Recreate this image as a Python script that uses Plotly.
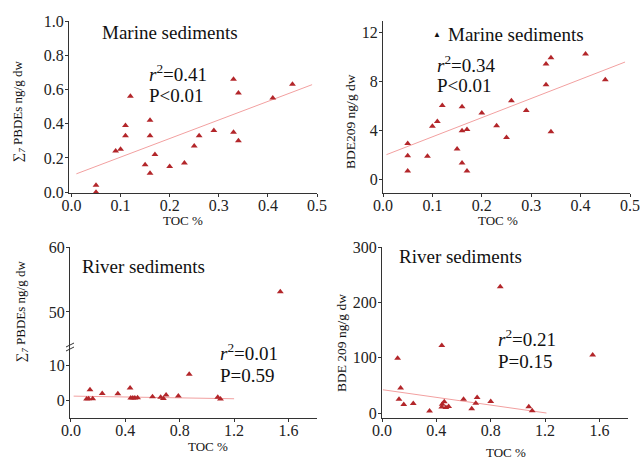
import plotly.graph_objects as go

# ---------------- data ----------------
# Marine sediments: sum of 7 PBDEs vs TOC
marine_toc_pbde = [0.05, 0.05, 0.09, 0.10, 0.11, 0.11, 0.12, 0.15, 0.16, 0.16, 0.16, 0.17,
                   0.20, 0.23, 0.25, 0.26, 0.29, 0.33, 0.33, 0.34, 0.34, 0.41, 0.45]
marine_pbde = [0.04, 0.00, 0.24, 0.25, 0.39, 0.33, 0.56, 0.16, 0.42, 0.33, 0.11, 0.22,
               0.15, 0.17, 0.27, 0.33, 0.36, 0.66, 0.35, 0.58, 0.30, 0.55, 0.63]
marine_pbde_fit_x = [0.01, 0.49]
marine_pbde_fit_y = [0.107, 0.628]

# Marine sediments: BDE209 vs TOC
marine_toc_209 = [0.05, 0.05, 0.05, 0.09, 0.10, 0.11, 0.12, 0.15, 0.16, 0.16, 0.16, 0.17,
                  0.17, 0.20, 0.23, 0.25, 0.26, 0.29, 0.33, 0.33, 0.34, 0.34, 0.41, 0.45]
marine_209 = [2.9, 1.9, 0.65, 1.85, 4.3, 4.7, 6.0, 2.45, 5.9, 3.95, 1.3, 4.05,
              0.65, 5.4, 4.35, 3.4, 6.4, 5.6, 9.4, 7.7, 9.9, 3.85, 10.2, 8.1]
marine_209_fit_x = [0.007, 0.49]
marine_209_fit_y = [1.99, 9.55]

# River sediments: sum of 7 PBDEs vs TOC
river_toc_pbde = [0.115, 0.13, 0.14, 0.16, 0.23, 0.345, 0.435, 0.44, 0.455, 0.47, 0.49,
                  0.60, 0.66, 0.68, 0.70, 0.79, 0.87, 1.08, 1.10, 1.54]
river_pbde = [0.5, 0.6, 3.2, 0.6, 2.1, 2.0, 3.7, 0.8, 0.8, 0.8, 0.9,
              1.2, 1.0, 0.7, 1.7, 1.4, 7.6, 1.0, 0.5, 53.1]
river_pbde_fit_x = [0.02, 1.2]
river_pbde_fit_y = [1.35, 0.6]

# River sediments: BDE 209 vs TOC
river_toc_209 = [0.115, 0.125, 0.137, 0.16, 0.23, 0.35, 0.44, 0.443, 0.44, 0.458, 0.47,
                 0.49, 0.60, 0.66, 0.69, 0.70, 0.80, 0.87, 1.08, 1.105, 1.55]
river_209 = [99, 25, 45, 15.5, 17, 3.5, 122, 15.7, 11, 20.5, 10,
             12, 25, 7.8, 17.5, 28, 21, 228, 11.5, 4.2, 105]
river_209_fit_x = [0.007, 1.21]
river_209_fit_y = [42, 0]

# ---------------- styling ----------------
W, H = 640, 459
FONT = "Liberation Serif"
MARK = "#b3262a"
FITC = "#f2a0a0"
AXC = "#333333"


def px(x):
    return x / W


def py(y):
    return 1 - y / H


fig = go.Figure()


def scat(x, y, xa, ya):
    fig.add_trace(go.Scatter(x=x, y=y, mode="markers", xaxis=xa, yaxis=ya,
                             marker=dict(symbol="triangle-up", size=6, color=MARK),
                             showlegend=False, hoverinfo="skip"))


def fit(x, y, xa, ya):
    fig.add_trace(go.Scatter(x=x, y=y, mode="lines", xaxis=xa, yaxis=ya,
                             line=dict(color=FITC, width=1),
                             showlegend=False, hoverinfo="skip"))


fit(marine_pbde_fit_x, marine_pbde_fit_y, "x", "y")
scat(marine_toc_pbde, marine_pbde, "x", "y")
fit(marine_209_fit_x, marine_209_fit_y, "x2", "y2")
scat(marine_toc_209, marine_209, "x2", "y2")

# broken axis: split river PBDE points into lower / upper part
lo_x = [a for a, b in zip(river_toc_pbde, river_pbde) if b < 30]
lo_y = [b for b in river_pbde if b < 30]
hi_x = [a for a, b in zip(river_toc_pbde, river_pbde) if b >= 30]
hi_y = [b for b in river_pbde if b >= 30]
fit(river_pbde_fit_x, river_pbde_fit_y, "x3", "y3")
scat(lo_x, lo_y, "x3", "y3")
scat(hi_x, hi_y, "x3", "y4")
fit(river_209_fit_x, river_209_fit_y, "x4", "y5")
scat(river_toc_209, river_209, "x4", "y5")

tickfont = dict(family=FONT, size=16, color="#222")
base = dict(showline=True, linecolor=AXC, linewidth=1, ticks="outside", ticklen=3,
            tickcolor=AXC, showgrid=False, zeroline=False, tickfont=tickfont,
            automargin=False)
xc = dict(base, ticklabelstandoff=-5)
yc = dict(base, ticklabelstandoff=-2)

fig.update_layout(
    width=W, height=H, autosize=False,
    margin=dict(l=0, r=0, t=0, b=0, pad=0, autoexpand=False),
    paper_bgcolor="white", plot_bgcolor="white",
    xaxis=dict(domain=[px(69), px(317)], range=[-0.005, 0.5], tickvals=[0, 0.1, 0.2, 0.3, 0.4, 0.5],
               tickformat=".1f", anchor="y", **xc),
    yaxis=dict(domain=[py(193), py(21)], range=[-0.005, 1.0], tickvals=[0, 0.2, 0.4, 0.6, 0.8, 1.0],
               tickformat=".1f", anchor="x", **yc),
    xaxis2=dict(domain=[px(383), px(630)], range=[0, 0.5], tickvals=[0, 0.1, 0.2, 0.3, 0.4, 0.5],
                tickformat=".1f", anchor="y2", **xc),
    yaxis2=dict(domain=[py(193), py(21)], range=[-1.14, 12.9], tickvals=[0, 4, 8, 12],
                anchor="x2", **yc),
    xaxis3=dict(domain=[px(70), px(317)], range=[-0.007, 1.81], tickvals=[0, 0.4, 0.8, 1.2, 1.6],
                tickformat=".1f", anchor="y3", **xc),
    yaxis3=dict(domain=[py(418), py(347)], range=[-4.9, 15.4], tickvals=[0, 10],
                anchor="x3", **yc),
    yaxis4=dict(domain=[py(347), py(247)], range=[44.6, 60], tickvals=[50, 60],
                anchor="x3", **yc),
    xaxis4=dict(domain=[px(382), px(628)], range=[0, 1.81], tickvals=[0, 0.4, 0.8, 1.2, 1.6],
                tickformat=".1f", anchor="y5", **xc),
    yaxis5=dict(domain=[py(418), py(247)], range=[-9, 300], tickvals=[0, 100, 200, 300],
                anchor="x4", **yc),
)

# break marks on the river PBDE axis
for dy in (-2, 2):
    fig.add_shape(type="line", xref="paper", yref="paper",
                  x0=px(66), y0=py(347 + dy + 2), x1=px(74), y1=py(347 + dy - 2),
                  line=dict(color=AXC, width=1))


def ann(text, x, y, size, angle=0, xanchor="center"):
    fig.add_annotation(text=text, x=px(x), y=py(y), xref="paper", yref="paper",
                       showarrow=False, textangle=angle, xanchor=xanchor, yanchor="middle",
                       font=dict(family=FONT, size=size, color="#111"))


ylab_pbde = "∑<sub><i>7</i></sub> PBDEs ng/g dw"
# axis titles
ann("TOC %", 183, 221, 13)
ann("TOC %", 498, 221, 13)
ann("TOC %", 208, 446, 13)
ann("TOC %", 506, 452, 13)
ann(ylab_pbde, 19, 112, 13, angle=-90)
ann("BDE209 ng/g dw", 350, 122, 13.5, angle=-90)
ann(ylab_pbde, 21, 312, 13, angle=-90)
ann("BDE 209 ng/g dw", 341, 343, 13.5, angle=-90)

# panel texts
ann("Marine sediments", 100, 33, 19, xanchor="left")
ann("<i>r</i><sup>2</sup>=0.41", 147, 73, 19, xanchor="left")
ann("P<0.01", 147, 95, 19, xanchor="left")

ann("▲", 437, 34, 8)
ann("Marine sediments", 446, 34, 19, xanchor="left")
ann("<i>r</i><sup>2</sup>=0.34", 435, 64, 19, xanchor="left")
ann("P<0.01", 435, 86, 19, xanchor="left")

ann("River sediments", 80, 266, 19, xanchor="left")
ann("<i>r</i><sup>2</sup>=0.01", 218, 352, 19, xanchor="left")
ann("P=0.59", 218, 375, 19, xanchor="left")

ann("River sediments", 397, 256, 19, xanchor="left")
ann("<i>r</i><sup>2</sup>=0.21", 496, 338, 19, xanchor="left")
ann("P=0.15", 496, 361, 19, xanchor="left")

fig.write_html("out.html", config={"displayModeBar": False},
               post_script="document.body.style.margin='0px';document.body.style.overflow='hidden';")
